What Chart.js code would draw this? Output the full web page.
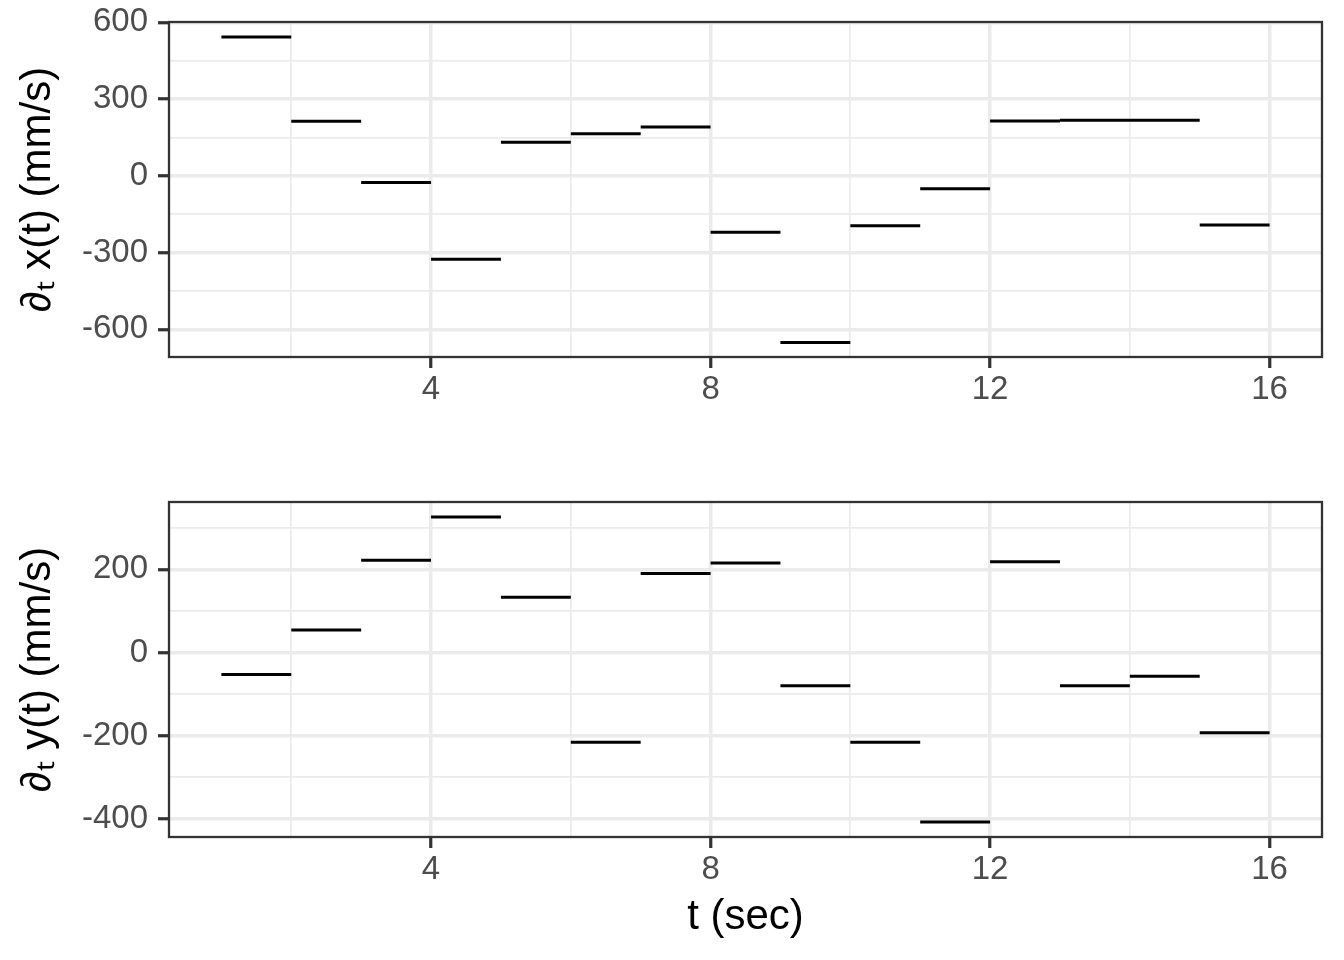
<!DOCTYPE html>
<html>
<head>
<meta charset="utf-8">
<title>Velocity components</title>
<script src="https://cdn.jsdelivr.net/npm/chart.js@4.4.1/dist/chart.umd.min.js"></script>
<style>
  html, body { margin: 0; padding: 0; background: #ffffff; }
  canvas { display: block; }
</style>
</head>
<body>
<canvas id="dxChart" width="1344" height="480"></canvas>
<canvas id="dyChart" width="1344" height="480"></canvas>
<script>
// Segment start / end times (sec)
const segStart = [1, 2, 3, 4, 5, 6, 7, 8, 9, 10, 11, 12, 13, 14, 15];
const segEnd = [2, 3, 4, 5, 6, 7, 8, 9, 10, 11, 12, 13, 14, 15, 16];

// Velocity per segment (mm/s)
const dxValues = [542, 213, -26, -326, 131, 164, 191, -221, -651, -195, -51, 214, 217, 217, -192];
const dyValues = [-53, 54, 222, 326, 133, -216, 190, 215, -80, -216, -408, 218, -80, -57, -193];

// Tick values
const xMajorTicks = [4, 8, 12, 16];
const xMinorTicks = [2, 6, 10, 14];
const dxMajorTicks = [-600, -300, 0, 300, 600];
const dxMinorTicks = [-450, -150, 150, 450];
const dyMajorTicks = [-400, -200, 0, 200];
const dyMinorTicks = [-300, -100, 100, 300];

const FONT = '"Liberation Sans", Arial, Helvetica, sans-serif';
const GRID = '#EBEBEB';
const DARK = '#333333';

// Draws the dark box around the plot panel
const panelBorder = {
    id: 'panelBorder',
    afterDatasetsDraw(chart) {
        const a = chart.chartArea;
        const ctx = chart.ctx;
        ctx.save();
        ctx.strokeStyle = DARK;
        ctx.lineWidth = 2.3;
        ctx.strokeRect(a.left, a.top, a.right - a.left, a.bottom - a.top);
        ctx.restore();
    }
};

function buildSegments(values) {
    const points = [];
    segStart.forEach(function(t0, i) {
        points.push({ x: t0, y: values[i] });
        points.push({ x: segEnd[i], y: values[i] });
        points.push({ x: segEnd[i], y: null });
    });
    return points;
}

function axisOptions(major, minor, min, max) {
    const all = major.concat(minor).sort(function(a, b) { return a - b; });
    const isMajor = function(ctx) { return ctx.tick && major.includes(ctx.tick.value); };
    return {
        type: 'linear',
        min: min,
        max: max,
        afterBuildTicks: function(scale) {
            scale.ticks = all.map(function(v) { return { value: v }; });
        },
        border: { display: false },
        grid: {
            color: GRID,
            lineWidth: function(ctx) { return isMajor(ctx) ? 3.5 : 1.7; },
            drawTicks: true,
            tickLength: 11,
            tickWidth: 3.2,
            tickColor: function(ctx) { return isMajor(ctx) ? DARK : 'rgba(0,0,0,0)'; }
        },
        ticks: {
            autoSkip: false,
            maxRotation: 0,
            color: '#4D4D4D',
            font: { family: FONT, size: 33 },
            callback: function(value) { return major.includes(value) ? String(value) : ''; }
        }
    };
}

// panel position is fixed, so drop the label overflow padding
function fixPadding(scale) {
    scale.paddingTop = 0;
    scale.paddingBottom = 0;
    scale.paddingLeft = 0;
    scale.paddingRight = 0;
}

function initializeSegmentChart(canvasId, values, yMajor, yMinor, yMin, yMax, yTitle, showXTitle) {
    const ctx = document.getElementById(canvasId);
    if (!ctx) return;

    const xAxis = axisOptions(xMajorTicks, xMinorTicks, 0.25, 16.75);
    xAxis.ticks.padding = 2;
    xAxis.afterFit = function(scale) { scale.height = 123; fixPadding(scale); };
    xAxis.title = {
        display: showXTitle,
        text: 't (sec)',
        color: '#000000',
        font: { family: FONT, size: 42 },
        padding: { top: 17, bottom: 17 }
    };

    const yAxis = axisOptions(yMajor, yMinor, yMin, yMax);
    yAxis.ticks.padding = 10;
    yAxis.afterFit = function(scale) { scale.width = 169; fixPadding(scale); };
    yAxis.title = {
        display: true,
        text: yTitle,
        color: '#000000',
        font: { family: FONT, size: 42 },
        padding: { top: 13, bottom: 13 }
    };

    new Chart(ctx, {
        type: 'line',
        data: {
            datasets: [{
                data: buildSegments(values),
                borderColor: '#000000',
                borderWidth: 3,
                borderCapStyle: 'butt',
                pointRadius: 0,
                pointHoverRadius: 0,
                spanGaps: false,
                tension: 0,
                fill: false
            }]
        },
        options: {
            responsive: false,
            animation: false,
            layout: { padding: { top: 22, right: 22, bottom: 0, left: 0 } },
            scales: { x: xAxis, y: yAxis },
            plugins: {
                legend: { display: false },
                tooltip: { enabled: false }
            }
        },
        plugins: [panelBorder]
    });
}

document.addEventListener('DOMContentLoaded', function() {
    initializeSegmentChart('dxChart', dxValues, dxMajorTicks, dxMinorTicks, -708, 601, '\u2202\u209C x(t) (mm/s)', false);
    initializeSegmentChart('dyChart', dyValues, dyMajorTicks, dyMinorTicks, -444, 362, '\u2202\u209C y(t) (mm/s)', true);
});
</script>
</body>
</html>
